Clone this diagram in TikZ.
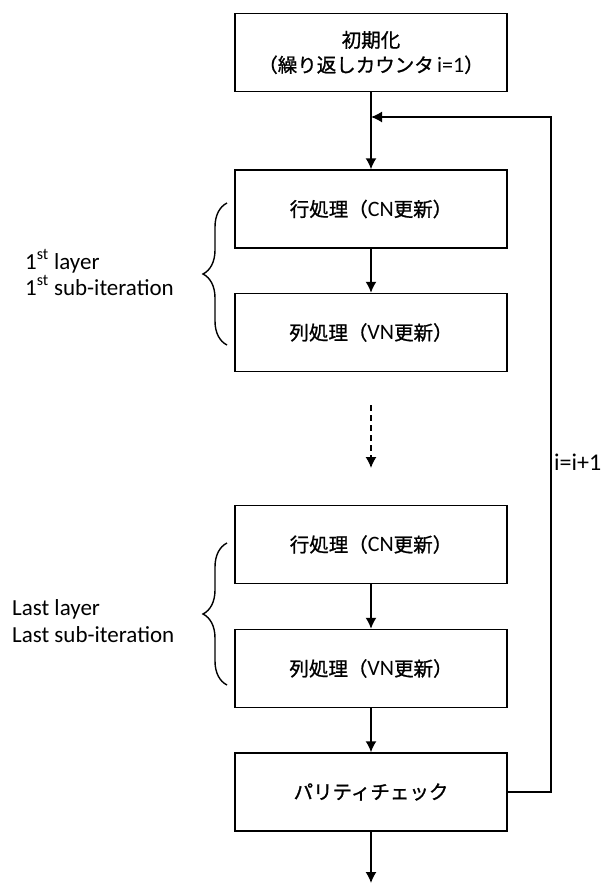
\documentclass[tikz,border=0pt]{standalone}
\usepackage{fontspec}
\setmainfont{Carlito}
\newfontfamily\jp[FakeBold=1]{Noto Sans CJK JP}
\newcommand{\lat}[1]{{\fontsize{22}{25}\selectfont #1}}
\usetikzlibrary{arrows.meta,decorations.pathreplacing}
\begin{document}
\begin{tikzpicture}[x=1pt,y=-1pt,
  box/.style={draw, line width=1.5pt, minimum width=272pt, minimum height=78pt, inner sep=0pt, align=center, font=\fontsize{19.5}{25}\selectfont},
  arr/.style={line width=1.5pt, -{Latex[length=11pt,width=11pt]}},
  brc/.style={decorate, decoration={brace, amplitude=24pt}, line width=1.4pt},
  lbl/.style={anchor=base west, inner sep=0pt, font=\fontsize{23}{27}\selectfont}]
\useasboundingbox (0,0) rectangle (611,884);
\node[box] (b1) at (371,52.5) {{\jp 初期化}\\{\jp （繰り返しカウンタ}\,\lat{i=1}{\jp ）}};
\node[box] (b2) at (371,209) {{\jp 行処理（}\lat{CN}{\jp 更新）}};
\node[box] (b3) at (371,332.5) {{\jp 列処理（}\lat{VN}{\jp 更新）}};
\node[box] (b4) at (371,544.5) {{\jp 行処理（}\lat{CN}{\jp 更新）}};
\node[box] (b5) at (371,668.5) {{\jp 列処理（}\lat{VN}{\jp 更新）}};
\node[box] (b6) at (371,792) {{\jp パリティチェック}};
\coordinate (merge) at (371,117);
\coordinate (fbr) at (551,117);
\coordinate (dtop) at (371,405);
\coordinate (dbot) at (371,468);
\coordinate (end) at (371,883);
\draw[arr] (b1.south) -- (b2.north);
\draw[arr] (b2.south) -- (b3.north);
\draw[arr, dash pattern=on 6pt off 4pt] (dtop) -- (dbot);
\draw[arr] (b4.south) -- (b5.north);
\draw[arr] (b5.south) -- (b6.north);
\draw[arr] (b6.south) -- (end);
\draw[arr] (b6.east) -| (fbr) -- (merge);
\node[lbl, font=\fontsize{24}{27}\selectfont] (inc) at (554,470) {i=i+1};
\coordinate (br1a) at (227,345);
\coordinate (br1b) at (227,203);
\coordinate (br2a) at (227,685);
\coordinate (br2b) at (227,543);
\draw[brc] (br1a) -- (br1b);
\draw[brc] (br2a) -- (br2b);
\node[lbl] (t1) at (25,269) {1\textsuperscript{st} layer};
\node[lbl] (t2) at (25,295) {1\textsuperscript{st} sub-iteration};
\node[lbl] (t3) at (12,615) {Last layer};
\node[lbl] (t4) at (12,642) {Last sub-iteration};
\end{tikzpicture}
\end{document}
